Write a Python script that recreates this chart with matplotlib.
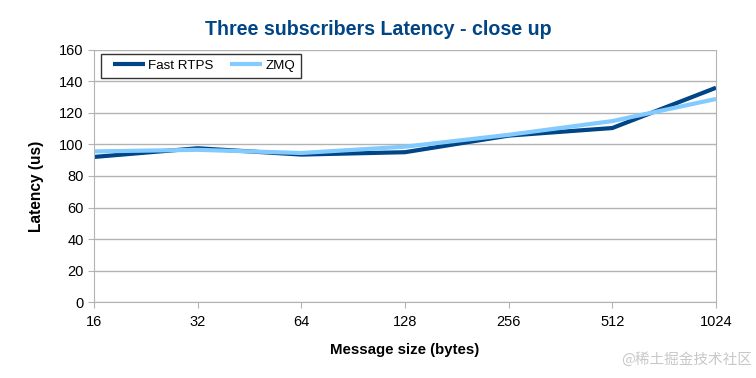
import matplotlib
matplotlib.use("Agg")
import matplotlib.pyplot as plt
from matplotlib.legend_handler import HandlerLine2D

sizes = ["16", "32", "64", "128", "256", "512", "1024"]
fast_rtps = [92, 97.5, 93.5, 95, 105.5, 110.3, 135.8]
zmq = [95.5, 96.5, 94.5, 98.5, 106, 114.7, 128.7]

plt.rcParams['font.family'] = ['Liberation Sans', 'DejaVu Sans']


class PaddedLineHandler(HandlerLine2D):
    def create_artists(self, legend, orig_handle, xdescent, ydescent,
                       width, height, fontsize, trans):
        p = 0.167 * width
        return super().create_artists(legend, orig_handle, xdescent - p, ydescent,
                                      width - p, height, fontsize, trans)


fig = plt.figure(figsize=(7.56, 3.78), dpi=100)
ax = fig.add_axes([94/756, 1-302.3/378, 622/756, 252.8/378])

x = list(range(len(sizes)))
l1, = ax.plot(x, fast_rtps, color='#004586', lw=3, label='Fast RTPS',
              solid_joinstyle='miter', solid_capstyle='butt')
l2, = ax.plot(x, zmq, color='#83CAFF', lw=3, label='ZMQ',
              solid_joinstyle='miter', solid_capstyle='butt')

ax.set_xlim(0, len(sizes)-1)
ax.set_ylim(0, 160)
ax.set_yticks(range(0, 161, 20))
ax.set_xticks(x)
ax.set_xticklabels(sizes)
ax.grid(axis='y', color='#b3b3b3', lw=1)
ax.grid(axis='x', visible=False)
ax.set_axisbelow(True)
ax.spines['top'].set_visible(False)
for s in ['right', 'left', 'bottom']:
    ax.spines[s].set_color('#b3b3b3')
ax.tick_params(axis='both', colors='#b3b3b3', labelcolor='black', labelsize=10.5, length=4)
ax.tick_params(axis='x', pad=5)

ax.set_xlabel('Message size (bytes)', fontsize=10.8, fontweight='bold', labelpad=10)
ax.set_ylabel('Latency (us)', fontsize=11.2, fontweight='bold')
ax.yaxis.set_label_coords(-0.08, 0.46)
fig.suptitle('Three subscribers Latency - close up', y=0.947, x=0.5, fontsize=14.1,
             fontweight='bold', color='#004586')

h = PaddedLineHandler()
leg = ax.legend(handles=[l1, l2], loc='upper left', bbox_to_anchor=(0.011, 0.982), ncol=2,
                frameon=True, fancybox=False, edgecolor='black', fontsize=9.6,
                handlelength=2.88, columnspacing=0.8, borderpad=0.42,
                handletextpad=0.23, borderaxespad=0,
                handler_map={l1: h, l2: h})
leg.get_frame().set_linewidth(1.0)

fig.text(0.995, 0.03, '@稀土掘金技术社区', ha='right', va='bottom', fontsize=10.5,
         color='#c8c8c8', family=['Noto Sans CJK SC', 'DejaVu Sans'])

fig.savefig('out.png', dpi=100)
